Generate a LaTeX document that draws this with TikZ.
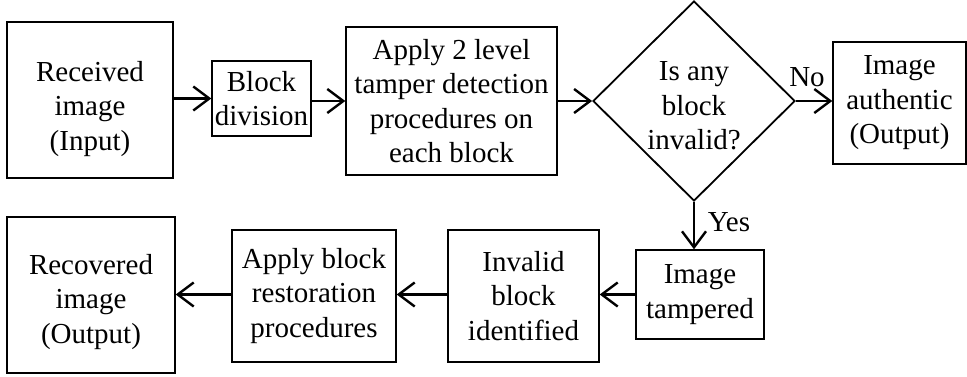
\documentclass[tikz,border=0pt]{standalone}
\usepackage{fontspec}
\setmainfont{Liberation Serif}
\usetikzlibrary{shapes.geometric,arrows.meta}

\tikzset{
  box/.style={draw=black, line width=1.4pt, rectangle, inner sep=0pt, align=center},
  decision/.style={draw=black, line width=1.8pt, diamond, inner sep=0pt},
  flow/.style={draw=black, line width=2.4pt, -{Straight Barb[length=16pt,width=24pt,line width=2.4pt]}},
  lbl/.style={inner sep=0pt, align=center}
}

\begin{document}
\begin{tikzpicture}[x=1pt, y=-1pt, font=\fontsize{29}{34.5}\selectfont]
  \useasboundingbox (0,0) rectangle (967,376);

  % top row
  \node[box, minimum width=166pt, minimum height=156pt] (recv) at (90,100) {};
  \node[lbl] at (90,109) {Received\\image\\(Input)};
  \node[box, minimum width=99pt, minimum height=75pt] (div) at (261.5,98.5)
    {Block\\division};
  \node[box, minimum width=211pt, minimum height=148pt] (apply) at (451.5,101)
    {Apply 2 level\\tamper detection\\procedures on\\each block};
  \node[decision, minimum width=202pt, minimum height=200pt] (dec) at (694,101) {};
  \node[lbl] (dectext) at (694,106) {Is any\\block\\invalid?};
  \node[box, minimum width=133pt, minimum height=122pt] (auth) at (899.5,103)
    {Image\\authentic\\(Output)};

  % bottom row
  \node[box, minimum width=128pt, minimum height=89pt] (tamp) at (700,294.5)
    {Image\\tampered};
  \node[box, minimum width=151pt, minimum height=132pt] (inval) at (523.5,296)
    {Invalid\\block\\identified};
  \node[box, minimum width=164pt, minimum height=132pt] (restore) at (314,296)
    {Apply block\\restoration\\procedures};
  \node[box, minimum width=168pt, minimum height=156pt] (recov) at (91,295) {};
  \node[lbl] at (91,302) {Recovered\\image\\(Output)};

  % connectors
  \draw[flow] (recv.east |- div.west) -- (div.west);
  \draw[flow] (div.east |- apply.west) -- (apply.west);
  \draw[flow] (apply.east) -- (dec.west);
  \draw[flow] (dec.east) -- (auth.west |- dec.east);
  \node[lbl] (no) at (807,77) {No};
  \draw[flow] (dec.south) -- (dec.south |- tamp.north);
  \node[lbl] (yes) at (729,222) {Yes};
  \draw[flow] (tamp.west) -- (inval.east |- tamp.west);
  \draw[flow] (inval.west |- tamp.west) -- (restore.east |- tamp.west);
  \draw[flow] (restore.west |- tamp.west) -- (recov.east |- tamp.west);
\end{tikzpicture}
\end{document}
